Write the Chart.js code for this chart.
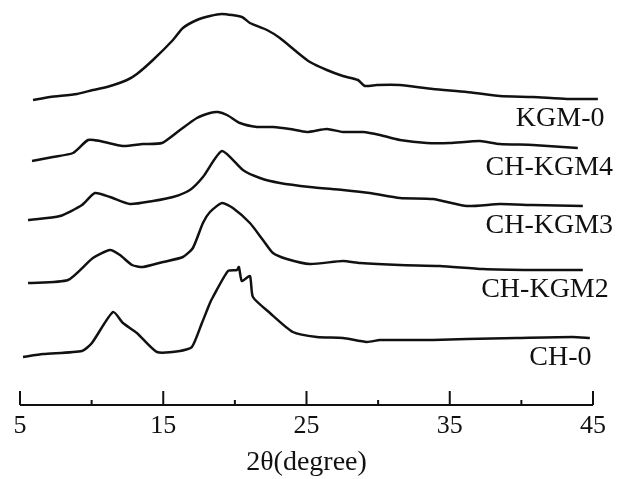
<!DOCTYPE html>
<html>
<head>
<meta charset="utf-8">
<script src="https://cdn.jsdelivr.net/npm/chart.js@4.4.1/dist/chart.umd.min.js"></script>
<style>
  html, body { margin: 0; padding: 0; background: #fff; }
  #wrap { width: 619px; height: 479px; position: relative; }
</style>
</head>
<body>
<div id="wrap"><canvas id="xrd"></canvas></div>
<script>
// ---------- Data (2θ in degrees, stacked intensity in plot units) ----------
const seriesNames = ['KGM-0', 'CH-KGM4', 'CH-KGM3', 'CH-KGM2', 'CH-0'];

const kgm0Theta = [5.91, 7.09, 8.98, 10.09, 11.07, 12.47, 13.16, 14.28, 15.68, 16.37, 17.35, 18.26, 19.10, 20.49, 21.05, 22.24, 23.14, 24.33, 25.24, 26.42, 27.54, 28.59, 29.08, 29.91, 31.52, 33.82, 36.19, 38.50, 40.80, 43.17, 45.34];
const kgm0Int   = [305, 308, 311, 315, 318, 325, 331, 345, 365, 377, 385, 389, 391, 388, 382, 375, 367, 353, 343, 335, 329, 325, 319, 320, 320, 316, 313, 309, 308, 306, 306];

const kgm4Theta = [5.84, 7.30, 8.70, 9.75, 10.58, 12.19, 13.58, 14.91, 16.17, 17.35, 18.26, 18.82, 19.45, 20.35, 21.54, 22.66, 23.84, 25.03, 26.42, 27.54, 28.94, 30.12, 31.52, 33.40, 35.01, 37.10, 38.50, 40.80, 43.94];
const kgm4Int   = [244, 248, 252, 265, 264, 259, 261, 262, 275, 287, 292, 293, 290, 282, 278, 278, 276, 273, 276, 273, 273, 270, 265, 262, 262, 264, 261, 260, 257];

const kgm3Theta = [5.56, 7.79, 9.33, 10.23, 11.28, 12.68, 14.28, 15.68, 16.86, 17.77, 19.10, 20.56, 21.75, 23.14, 25.24, 27.54, 29.42, 31.52, 33.82, 36.19, 38.50, 40.80, 44.29];
const kgm3Int   = [185, 189, 200, 212, 208, 201, 204, 208, 215, 228, 254, 235, 227, 222, 218, 215, 212, 207, 206, 199, 201, 200, 199];

const kgm2Theta = [5.56, 8.35, 10.09, 11.28, 11.98, 12.82, 13.58, 14.98, 16.37, 17.07, 17.77, 18.26, 19.10, 19.86, 21.05, 21.96, 22.66, 23.63, 25.24, 27.54, 28.73, 31.52, 34.31, 37.31, 40.80, 44.29];
const kgm2Int   = [122, 125, 147, 155, 150, 140, 138, 143, 148, 157, 182, 193, 202, 197, 182, 165, 152, 146, 141, 144, 142, 140, 139, 136, 135, 135];

const ch0Theta = [5.21, 6.61, 9.33, 10.02, 11.49, 12.19, 13.16, 14.56, 16.17, 17.00, 17.70, 18.26, 18.47, 19.52, 20.14, 20.28, 20.49, 21.05, 21.26, 22.45, 24.05, 25.73, 27.54, 29.21, 30.12, 31.52, 33.82, 36.19, 39.68, 43.59, 44.78];
const ch0Int   = [48, 51, 54, 62, 93, 82, 72, 53, 54, 58, 82, 102, 108, 134, 135, 138, 124, 129, 108, 92, 73, 68, 67, 63, 65, 65, 65, 66, 67, 68, 67];

// right end of each curve label, in 2θ
const labelEnd = [45.8, 46.4, 46.4, 46.1, 44.9];

const xTicksMajor = [5, 15, 25, 35, 45];

const pair = (xs, ys) => xs.map((x, i) => ({ x, y: ys[i] }));
const curves = [
  pair(kgm0Theta, kgm0Int),
  pair(kgm4Theta, kgm4Int),
  pair(kgm3Theta, kgm3Int),
  pair(kgm2Theta, kgm2Int),
  pair(ch0Theta, ch0Int)
];

const SERIF = "'Liberation Serif', 'DejaVu Serif', serif";

// axis line with upward ticks (major at labelled values, minor between)
const axisPlugin = {
  id: 'xrdAxis',
  afterDraw(chart) {
    const { ctx, scales: { x }, chartArea } = chart;
    const y0 = chartArea.bottom;
    ctx.save();
    ctx.strokeStyle = '#111';
    ctx.lineWidth = 2;
    ctx.beginPath();
    ctx.moveTo(x.getPixelForValue(5), y0);
    ctx.lineTo(x.getPixelForValue(45), y0);
    ctx.stroke();
    x.ticks.forEach(t => {
      const px = x.getPixelForValue(t.value);
      const len = xTicksMajor.includes(t.value) ? 14 : 5;
      ctx.beginPath();
      ctx.moveTo(px, y0);
      ctx.lineTo(px, y0 - len);
      ctx.stroke();
    });
    ctx.restore();
  }
};

// curve names under the right end of each trace
const labelPlugin = {
  id: 'curveLabels',
  afterDatasetsDraw(chart) {
    const { ctx, scales: { x } } = chart;
    ctx.save();
    ctx.font = '28px ' + SERIF;
    ctx.fillStyle = '#111';
    ctx.textAlign = 'right';
    ctx.textBaseline = 'middle';
    chart.data.datasets.forEach((ds, i) => {
      const pts = chart.getDatasetMeta(i).data;
      const last = pts[pts.length - 1];
      ctx.fillText(ds.label, x.getPixelForValue(labelEnd[i]), last.y + 20);
    });
    ctx.restore();
  }
};

new Chart(document.getElementById('xrd'), {
  type: 'line',
  data: {
    datasets: curves.map((d, i) => ({
      label: seriesNames[i],
      data: d,
      borderColor: '#111',
      borderWidth: 2.5,
      pointRadius: 0,
      tension: 0.2,
      fill: false,
      clip: false
    }))
  },
  options: {
    responsive: true,
    maintainAspectRatio: false,
    animation: false,
    layout: { padding: { left: 20, right: 26, top: 5, bottom: 0 } },
    plugins: {
      legend: { display: false },
      tooltip: { enabled: false }
    },
    scales: {
      x: {
        type: 'linear',
        min: 5,
        max: 45,
        border: { display: false },
        grid: { display: false, drawTicks: false },
        ticks: {
          stepSize: 5,
          padding: 6,
          color: '#111',
          font: { family: SERIF, size: 26 },
          maxRotation: 0,
          autoSkip: false,
          callback: (v) => xTicksMajor.includes(v) ? String(v) : ''
        },
        title: {
          display: true,
          text: '2θ(degree)',
          color: '#111',
          font: { family: SERIF, size: 28 },
          padding: { top: 0, bottom: 0 }
        },
        afterFit: (scale) => { scale.height = 74; }
      },
      y: {
        display: false,
        min: 0,
        max: 400
      }
    }
  },
  plugins: [axisPlugin, labelPlugin]
});
</script>
</body>
</html>
